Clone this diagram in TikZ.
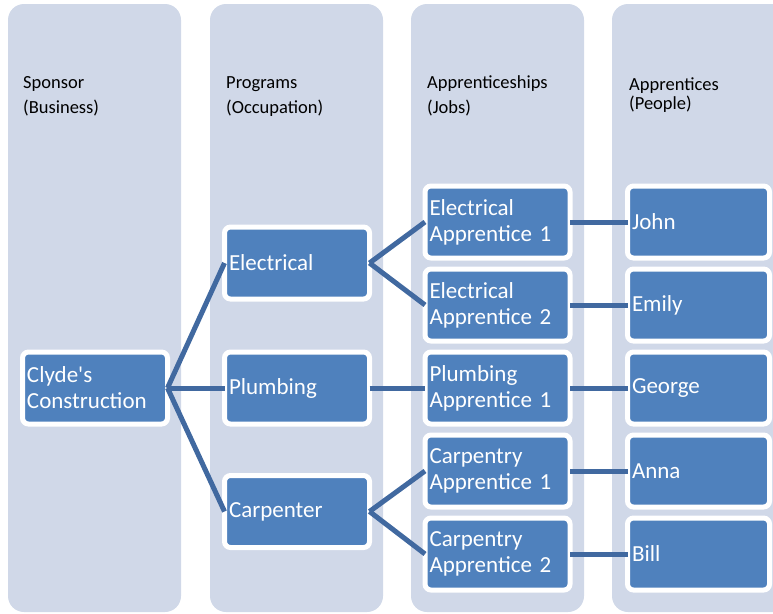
\documentclass[tikz,border=0pt]{standalone}
\usepackage{fontspec}
\setmainfont{Carlito}[Ligatures=TeXOff]
\definecolor{colfill}{RGB}{208,216,232}
\definecolor{boxfill}{RGB}{79,129,189}
\definecolor{linkcol}{RGB}{65,105,160}
\begin{document}
\begin{tikzpicture}[x=1pt,y=-1pt,
  column/.style={fill=colfill, rounded corners=16pt},
  box/.style={rectangle, rounded corners=6pt, fill=boxfill, draw=white,
    line width=5pt, minimum height=72pt, inner xsep=4.5pt, inner ysep=0pt,
    outer sep=0pt, text=white, align=left, text width=136pt,
    font=\fontsize{23}{26}\selectfont},
  narrowbox/.style={box, text width=133pt},
  head/.style={anchor=base west, inner sep=0pt, text=black,
    font=\fontsize{18.5}{22}\selectfont},
  link/.style={draw=linkcol, line width=5pt}
]
\useasboundingbox (0,0) rectangle (773,613);
\clip (0,0) rectangle (773,613);

% columns
\fill[column] (8,4) rectangle (181,612);
\fill[column] (210,4) rectangle (383,612);
\fill[column] (411,4) rectangle (584,612);
\fill[column] (612,4) rectangle (800,612);

% headers
\node[head] (h1a) at (23,88) {Sponsor};
\node[head] (h1b) at (23,113) {(Business)};
\node[head] (h2a) at (226,88) {Programs};
\node[head] (h2b) at (226,113) {(Occupation)};
\node[head] (h3a) at (427,88) {Apprenticeships};
\node[head] (h3b) at (427,113) {(Jobs)};
\node[head] (h4a) at (629,90) {Apprentices};
\node[head] (h4b) at (629,109) {(People)};

% boxes
\node[box] (clyde) at (95,388) {Clyde's\\Construction};

\node[box] (elec) at (297,263) {Electrical};
\node[box] (plumb) at (297,388) {Plumbing};
\node[box] (carp) at (297,511.5) {Carpenter};

\node[box] (ea1) at (497.5,222) {Electrical\\Apprentice 1};
\node[box] (ea2) at (497.5,305) {Electrical\\Apprentice 2};
\node[box] (pa1) at (497.5,388) {Plumbing\\Apprentice 1};
\node[box] (ca1) at (497.5,471) {Carpentry\\Apprentice 1};
\node[box] (ca2) at (497.5,554) {Carpentry\\Apprentice 2};

\node[narrowbox] (john) at (698.5,222) {John};
\node[narrowbox] (emily) at (698.5,305) {Emily};
\node[narrowbox] (george) at (698.5,388) {George};
\node[narrowbox] (anna) at (698.5,471) {Anna};
\node[narrowbox] (bill) at (698.5,554) {Bill};

% connectors
\draw[link] (clyde.east) -- (elec.west);
\draw[link] (clyde.east) -- (plumb.west);
\draw[link] (clyde.east) -- (carp.west);
\draw[link] (elec.east) -- (ea1.west);
\draw[link] (elec.east) -- (ea2.west);
\draw[link] (plumb.east) -- (pa1.west);
\draw[link] (carp.east) -- (ca1.west);
\draw[link] (carp.east) -- (ca2.west);
\draw[link] (ea1.east) -- (john.west);
\draw[link] (ea2.east) -- (emily.west);
\draw[link] (pa1.east) -- (george.west);
\draw[link] (ca1.east) -- (anna.west);
\draw[link] (ca2.east) -- (bill.west);
\end{tikzpicture}
\end{document}
